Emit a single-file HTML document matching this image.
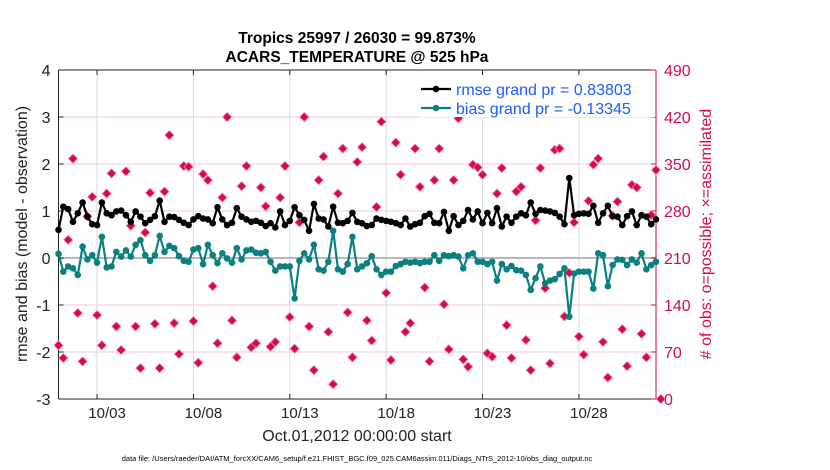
<!DOCTYPE html>
<html><head><meta charset="utf-8">
<style>
body{margin:0;background:#fff;}
svg{display:block;font-family:"Liberation Sans",sans-serif;}
</style></head>
<body>
<svg id="chart" width="830" height="470" xmlns="http://www.w3.org/2000/svg"></svg>
<script>
const xTickLabels=["10/03","10/08","10/13","10/18","10/23","10/28"];
const xTickDays=[3,8,13,18,23,28];
const leftTicks=[-3,-2,-1,0,1,2,3,4];
const rightTicks=[0,70,140,210,280,350,420,490];
const rmse=[0.60,1.09,1.04,0.77,0.95,1.18,0.88,0.72,0.70,1.18,0.95,0.91,0.99,1.01,0.91,0.77,0.99,0.88,0.74,0.81,0.89,1.22,0.77,0.88,0.87,0.81,0.75,0.70,0.82,0.89,0.84,0.82,0.74,1.08,0.82,0.70,0.75,1.06,0.88,0.82,0.77,0.79,0.75,0.68,
0.74,0.65,0.99,0.70,0.79,1.08,0.91,0.81,0.58,1.15,0.84,0.82,0.67,1.09,0.75,0.74,0.79,0.96,0.77,0.74,0.68,0.70,0.84,0.81,0.79,0.77,0.74,0.70,0.84,0.67,0.72,0.75,0.89,0.94,0.75,0.74,0.98,0.58,0.89,0.70,0.79,1.02,
0.82,0.99,0.74,0.96,0.74,1.06,0.67,0.88,0.75,0.88,0.95,0.91,1.18,0.94,1.02,1.01,0.99,0.96,0.88,0.72,1.70,0.91,0.94,0.95,0.94,1.11,0.75,0.95,1.11,0.89,0.88,0.70,0.89,0.99,0.70,0.91,0.88,0.72,0.82];
const bias=[0.09,-0.29,-0.18,-0.22,-0.36,0.24,-0.03,0.06,-0.10,0.45,-0.20,-0.18,0.13,0.03,0.16,0.03,0.28,0.38,0.06,-0.06,0.06,0.47,0.13,0.26,0.21,0.04,-0.06,-0.08,0.18,0.21,-0.13,0.28,0.06,-0.11,0.10,-0.01,-0.10,0.21,-0.03,0.16,0.18,0.11,0.10,0.13,
-0.08,-0.27,-0.18,-0.18,-0.18,-0.86,-0.06,0.10,-0.03,0.28,-0.24,-0.27,-0.08,0.58,-0.24,-0.29,-0.13,0.45,-0.24,-0.18,-0.11,0.04,-0.24,-0.36,-0.29,-0.29,-0.17,-0.13,-0.08,-0.10,-0.08,-0.11,-0.08,-0.08,0.06,-0.06,0.06,0.04,0.06,0.03,-0.22,0.06,
0.10,-0.08,-0.08,-0.13,-0.08,-0.48,-0.13,-0.24,-0.17,-0.26,-0.27,-0.36,-0.68,-0.43,-0.18,-0.54,-0.48,-0.45,-0.34,-0.22,-1.25,-0.33,-0.29,-0.29,-0.29,-0.65,0.10,0.06,-0.60,-0.15,-0.03,-0.04,-0.15,-0.03,-0.10,0.10,-0.24,-0.15,-0.08];
const obsCount=[80,61,237,358,128,56,272,301,125,80,306,336,108,73,339,258,108,46,248,307,112,46,309,393,113,67,347,346,116,54,335,326,168,83,300,420,117,62,317,347,77,83,315,287,
78,85,300,347,122,75,263,420,108,43,326,361,100,22,306,373,129,62,353,375,117,87,286,413,158,58,382,334,100,113,373,316,166,56,326,373,141,74,326,418,59,48,
349,345,334,68,63,306,344,110,61,309,316,88,43,266,344,165,53,371,373,123,188,263,93,66,295,349,358,85,32,273,294,104,49,319,315,97,62,274,341,0];

const svg=document.getElementById('chart');
const NS='http://www.w3.org/2000/svg';
const L=58.5,R=656,T=70,B=399;
const xS=d=>L+(d-1)/31*(R-L);
const yL=v=>B-(v+3)/7*(B-T);
const yR=c=>B-c/490*(B-T);
const RED='#d6094f';
function el(tag,attrs,parent){const e=document.createElementNS(NS,tag);for(const k in attrs)e.setAttribute(k,attrs[k]);(parent||svg).appendChild(e);return e;}

// grid
const grid=el('g',{});


rightTicks.forEach(c=>{el('line',{x1:L,x2:R,y1:yR(c),y2:yR(c),stroke:'#f2c8d6','stroke-width':1},grid);});
xTickDays.forEach(d=>{el('line',{x1:xS(d),x2:xS(d),y1:T,y2:B,stroke:'#d8d8d8','stroke-width':1},grid);});
el('line',{x1:L,x2:R,y1:yL(0),y2:yL(0),stroke:'#b8b8b8','stroke-width':2},grid);

// axes box
const ax=el('g',{});


el('line',{x1:L,x2:R,y1:T,y2:T,stroke:'#222','stroke-width':1},ax);
el('line',{x1:L,x2:R,y1:B,y2:B,stroke:'#222','stroke-width':1},ax);
el('line',{x1:L,x2:L,y1:T,y2:B,stroke:'#222','stroke-width':1},ax);
el('line',{x1:R,x2:R,y1:T,y2:B,stroke:RED,'stroke-width':1},ax);
leftTicks.forEach(v=>{
  const y=yL(v);
  el('line',{x1:L,x2:L+5,y1:y,y2:y,stroke:'#222'},ax);
  const t=el('text',{x:L-8,y:y+6,'text-anchor':'end','font-size':16,fill:'#222'},ax);
  t.textContent=v;
  
  
});
rightTicks.forEach(c=>{
  const y=yR(c);
  el('line',{x1:R-5,x2:R,y1:y,y2:y,stroke:RED},ax);
  const t=el('text',{x:R+8,y:y+6,'font-size':16,fill:RED},ax);
  t.textContent=c;
  
  
});
xTickDays.forEach((d,i)=>{
  const x=xS(d);
  el('line',{x1:x,x2:x,y1:B,y2:B-5,stroke:'#222'},ax);
  el('line',{x1:x,x2:x,y1:T,y2:T+5,stroke:'#222'},ax);
  const t=el('text',{x:x+10,y:B+19,'text-anchor':'middle','font-size':15,fill:'#222'},ax);
  t.textContent=xTickLabels[i];
  
  
});

// obs counts
const og=el('g',{});


obsCount.forEach((c,i)=>{
  const x=xS(1+i*0.25),y=yR(c);
  const p=el('path',{d:`M${x-4.5} ${y}L${x} ${y-4.5}L${x+4.5} ${y}L${x} ${y+4.5}Z`,fill:RED,stroke:'#f07aa0','stroke-width':0.8},og);
  
  
});

function series(vals,color,name){
  const g=el('g',{});
  
  
  const pts=vals.map((v,i)=>`${xS(1+i*0.25).toFixed(1)},${yL(v).toFixed(1)}`).join(' ');
  el('polyline',{points:pts,fill:'none',stroke:color,'stroke-width':2.2},g);
  vals.forEach((v,i)=>{
    const c=el('circle',{cx:xS(1+i*0.25),cy:yL(v),r:3.3,fill:color},g);
    
    
  });
}
series(bias,'#0a8080','bias-series');
series(rmse,'#000','rmse-series');

// legend
const lg=el('g',{});


el('rect',{x:420,y:75,width:235,height:42,fill:'#fff'},lg);
[['rmse grand pr = 0.83803','#000',89],['bias grand pr = -0.13345','#0a8080',108]].forEach(([txt,col,y])=>{
  el('line',{x1:421,x2:451,y1:y,y2:y,stroke:col,'stroke-width':2.2},lg);
  el('circle',{cx:436,cy:y,r:3.3,fill:col},lg);
  const t=el('text',{x:456,y:y+6,'font-size':16,fill:'#1a5cff'},lg);
  t.textContent=txt;
  
  
});

// titles
function txt(s,attrs,name){const t=el('text',attrs);t.textContent=s;return t;}
txt('Tropics 25997 / 26030 = 99.873%',{x:357,y:43,'text-anchor':'middle','font-size':15.5,'font-weight':'bold',fill:'#000'},'chart-title');
txt('ACARS_TEMPERATURE @ 525 hPa',{x:357,y:62,'text-anchor':'middle','font-size':15.5,'font-weight':'bold',fill:'#000'},'chart-subtitle');
txt('Oct.01,2012 00:00:00 start',{x:357,y:441,'text-anchor':'middle','font-size':16,fill:'#222'},'x-axis-title');
txt('rmse and bias (model - observation)',{x:0,y:0,transform:'translate(27,234) rotate(-90)','text-anchor':'middle','font-size':16,fill:'#222'},'y-left-axis-title');
txt('# of obs: o=possible; \u00d7=assimilated',{x:0,y:0,transform:'translate(711,234) rotate(-90)','text-anchor':'middle','font-size':16,fill:RED},'y-right-axis-title');
txt('data file: /Users/raeder/DAI/ATM_forcXX/CAM6_setup/f.e21.FHIST_BGC.f09_025.CAM6assim.011/Diags_NTrS_2012-10/obs_diag_output.nc',{x:357,y:461,'text-anchor':'middle','font-size':7.5,fill:'#000'},'data-file-footnote');
</script>
</body></html>
